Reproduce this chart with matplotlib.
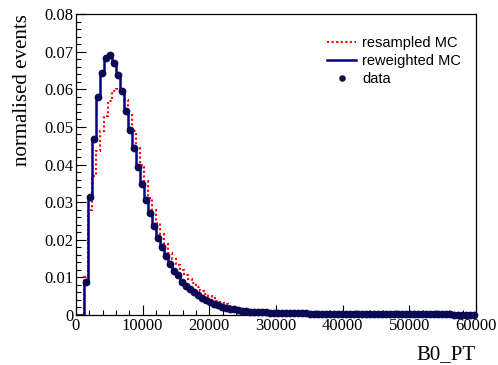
import numpy as np
import matplotlib
matplotlib.use("Agg")
import matplotlib.pyplot as plt
from matplotlib.ticker import MultipleLocator, FixedLocator, FixedFormatter

# ---- data ----
x_min, x_max, n_bins = 0, 60000, 100

reweighted_mc = [
    0, 0, 0.0087, 0.0313, 0.0469, 0.0580, 0.0644, 0.0682, 0.0692, 0.0669,
    0.0638, 0.0596, 0.0542, 0.0491, 0.0444, 0.0393, 0.0349, 0.0305, 0.0271, 0.0237,
    0.0204, 0.0180, 0.0157, 0.0135, 0.0118, 0.0105, 0.0089, 0.0078, 0.0068, 0.0060,
    0.0053, 0.0046, 0.0040, 0.0035, 0.0030, 0.0026, 0.0022, 0.0019, 0.0017, 0.0015,
    0.0013, 0.00115, 0.0010, 0.0009, 0.00085, 0.0008, 0.00075, 0.0007, 0.00066, 0.00062,
    0.00058, 0.00055, 0.00052, 0.0005, 0.00047, 0.00045, 0.00043, 0.00041, 0.00039, 0.00037,
    0.00035, 0.00034, 0.00033, 0.00032, 0.00031, 0.0003, 0.00029, 0.00028, 0.00027, 0.00026,
    0.00025, 0.00024, 0.00024, 0.00023, 0.00022, 0.00022, 0.00021, 0.0002, 0.0002, 0.00019,
    0.00019, 0.00018, 0.00018, 0.00017, 0.00017, 0.00016, 0.00016, 0.00016, 0.00015, 0.00015,
    0.00015, 0.00014, 0.00014, 0.00014, 0.00013, 0.00013, 0.00013, 0.00012, 0.00012, 0.00012,
]

resampled_mc = [
    0, 0, 0.0102, 0.0280, 0.0370, 0.0435, 0.0490, 0.0530, 0.0570, 0.0595,
    0.0602, 0.0590, 0.0572, 0.0535, 0.0490, 0.0445, 0.0400, 0.0355, 0.0312, 0.0278,
    0.0245, 0.0214, 0.0188, 0.0166, 0.0148, 0.0133, 0.0120, 0.0107, 0.0095, 0.0084,
    0.0074, 0.0065, 0.0057, 0.0050, 0.0044, 0.0038, 0.0033, 0.0029, 0.0025, 0.0022,
    0.0019, 0.0017, 0.0015, 0.0013, 0.0012, 0.0011, 0.0010, 0.0009, 0.00082, 0.00075,
    0.0007, 0.00064, 0.00059, 0.00055, 0.00051, 0.00048, 0.00045, 0.00042, 0.0004, 0.00038,
    0.00036, 0.00035, 0.00034, 0.00033, 0.00031, 0.0003, 0.00029, 0.00028, 0.00027, 0.00026,
    0.00025, 0.00024, 0.00024, 0.00023, 0.00022, 0.00022, 0.00021, 0.0002, 0.0002, 0.00019,
    0.00019, 0.00018, 0.00018, 0.00017, 0.00017, 0.00016, 0.00016, 0.00016, 0.00015, 0.00015,
    0.00015, 0.00014, 0.00014, 0.00014, 0.00013, 0.00013, 0.00013, 0.00012, 0.00012, 0.00012,
]

data_values = list(reweighted_mc)

x_ticks = [0, 10000, 20000, 30000, 40000, 50000, 60000]
x_tick_labels = ["0", "10000", "20000", "30000", "40000", "50000", "60000"]
y_ticks = [0, 0.01, 0.02, 0.03, 0.04, 0.05, 0.06, 0.07, 0.08]
y_tick_labels = ["0", "0.01", "0.02", "0.03", "0.04", "0.05", "0.06", "0.07", "0.08"]

x_label = "B0_PT"
y_label = "normalised events"
legend_labels = ["resampled MC", "reweighted MC", "data"]

# ---- plot ----
edges = np.linspace(x_min, x_max, n_bins + 1)
centers = 0.5 * (edges[:-1] + edges[1:])
data_arr = np.array(data_values)
mask = data_arr > 0

serif = ["Liberation Serif", "DejaVu Serif"]
sans = ["Liberation Sans", "DejaVu Sans"]

fig = plt.figure(figsize=(4.98, 3.65), dpi=100)
ax = fig.add_axes([0.1526, 0.137, 0.8032, 0.8246])

h_red = ax.stairs(resampled_mc, edges, color="red", linestyle=(0, (1.0, 1.2)),
                  linewidth=1.5, baseline=None, zorder=2)
h_blue = ax.stairs(reweighted_mc, edges, color="#000080", linewidth=1.8,
                   baseline=None, zorder=3)
h_data, = ax.plot(centers[mask], data_arr[mask], "o", color="#0a0a55",
                  markersize=4.6, linestyle="none", zorder=4, clip_on=False)

ax.set_xlim(x_min, x_max)
ax.set_ylim(0, 0.08)

ax.xaxis.set_major_locator(FixedLocator(x_ticks))
ax.xaxis.set_major_formatter(FixedFormatter(x_tick_labels))
ax.xaxis.set_minor_locator(MultipleLocator(2000))
ax.yaxis.set_major_locator(FixedLocator(y_ticks))
ax.yaxis.set_major_formatter(FixedFormatter(y_tick_labels))
ax.yaxis.set_minor_locator(MultipleLocator(0.002))

ax.tick_params(which="both", direction="in", top=False, right=False,
               width=0.8, color="black")
ax.tick_params(which="major", length=7)
ax.tick_params(which="minor", length=3.5)
ax.tick_params(axis="x", pad=2)
ax.tick_params(axis="y", pad=2)
for lab in ax.get_xticklabels() + ax.get_yticklabels():
    lab.set_fontfamily(serif)
    lab.set_fontsize(12)

for sp in ax.spines.values():
    sp.set_linewidth(0.9)
    sp.set_color("black")

ax.set_xlabel(x_label, fontsize=15, family=serif, loc="right", labelpad=8)
ax.set_ylabel(y_label, fontsize=15, family=serif, loc="top", labelpad=9)

leg = ax.legend([h_red, h_blue, h_data], legend_labels,
                loc="upper left", bbox_to_anchor=(0.628, 0.928),
                frameon=False, prop={"family": sans, "size": 10.5},
                handlelength=2.0, handletextpad=0.4, labelspacing=0.28,
                borderpad=0, borderaxespad=0, markerscale=0.8)
for t in leg.get_texts():
    t.set_color("black")

fig.savefig("out.png", dpi=100)
